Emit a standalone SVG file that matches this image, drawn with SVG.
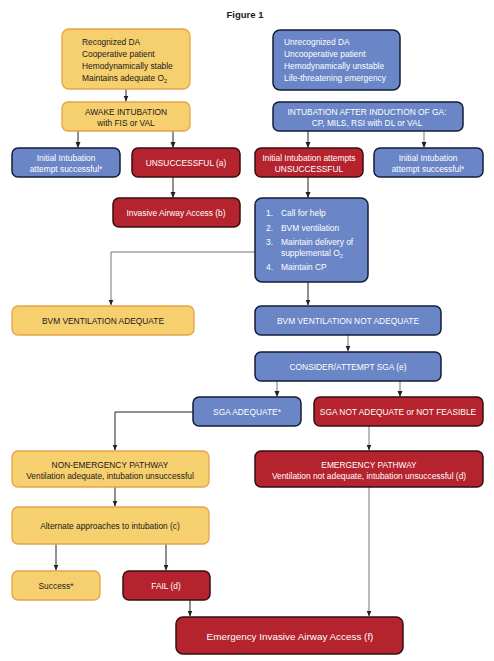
<svg xmlns="http://www.w3.org/2000/svg" width="494" height="661" viewBox="0 0 494 661">
<defs>
<style>
.y{fill:#F6CF6E;stroke:#E6A34A;stroke-width:1.3}
.b{fill:#6A86C6;stroke:#141C38;stroke-width:1.5}
.r{fill:#B4232E;stroke:#35100F;stroke-width:1.5}
text{font-family:"Liberation Sans",Arial,sans-serif;font-size:8.4px}
.dk{fill:#1a1a1a}
.wt{fill:#ffffff}
.c{text-anchor:middle}
.ln{fill:none;stroke:#222;stroke-width:1}
.lg{fill:none;stroke:#777;stroke-width:1}
</style>
<marker id="a" viewBox="0 0 6 6" refX="5.5" refY="3" markerWidth="6" markerHeight="6" markerUnits="userSpaceOnUse" orient="auto">
<path d="M0,0.5 L6,3 L0,5.5 z" fill="#222"/>
</marker>
</defs>
<rect width="494" height="661" fill="#ffffff"/>
<text x="245" y="18" class="c dk" style="font-weight:bold;font-size:9.5px">Figure 1</text>

<g id="connectors">
<path class="ln" d="M126,89 V101" marker-end="url(#a)"/>
<path class="ln" d="M78,131 V147.5" marker-end="url(#a)"/>
<path class="ln" d="M173,131 V147.5" marker-end="url(#a)"/>
<path class="ln" d="M308,131 V147.5" marker-end="url(#a)"/>
<path class="lg" d="M424,131 V147.5" marker-end="url(#a)"/>
<path class="ln" d="M173,177 V197.5" marker-end="url(#a)"/>
<path class="ln" d="M308,177 V197.5" marker-end="url(#a)"/>
<path class="lg" d="M255,252 H111 V305" marker-end="url(#a)"/>
<path class="ln" d="M308,282 V305" marker-end="url(#a)"/>
<path class="lg" d="M348,335 V351" marker-end="url(#a)"/>
<path class="lg" d="M277,381 V396.5" marker-end="url(#a)"/>
<path class="lg" d="M400,381 V396.5" marker-end="url(#a)"/>
<path class="ln" d="M193,412 H115 V450" marker-end="url(#a)"/>
<path class="lg" d="M369,426 V450" marker-end="url(#a)"/>
<path class="ln" d="M115,487 V506" marker-end="url(#a)"/>
<path class="ln" d="M56,544 V570" marker-end="url(#a)"/>
<path class="ln" d="M166,544 V570" marker-end="url(#a)"/>
<path class="ln" d="M190,600 V616" marker-end="url(#a)"/>
<path class="lg" d="M369,487 V616" marker-end="url(#a)"/>
</g>

<g id="n1"><rect class="y" x="62" y="29" width="128" height="60" rx="7"/>
<text class="dk" x="82" y="45">Recognized DA</text>
<text class="dk" x="82" y="57">Cooperative patient</text>
<text class="dk" x="82" y="69">Hemodynamically stable</text>
<text class="dk" x="82" y="81">Maintains adequate O<tspan dy="2" style="font-size:5.5px">2</tspan></text></g>

<g id="n2"><rect class="b" x="273" y="30" width="127" height="60" rx="7"/>
<text class="wt" x="284" y="45">Unrecognized DA</text>
<text class="wt" x="284" y="57">Uncooperative patient</text>
<text class="wt" x="284" y="69">Hemodynamically unstable</text>
<text class="wt" x="284" y="81">Life-threatening emergency</text></g>

<g id="n3"><rect class="y" x="62" y="102" width="128" height="29" rx="6"/>
<text class="dk c" x="126" y="115">AWAKE INTUBATION</text>
<text class="dk c" x="126" y="126">with FIS or VAL</text></g>

<g id="n4"><rect class="b" x="273" y="102" width="190" height="29" rx="6"/>
<text class="wt c" x="367" y="115">INTUBATION AFTER INDUCTION OF GA:</text>
<text class="wt c" x="367" y="126">CP, MILS, RSI with DL or VAL</text></g>

<g id="n5"><rect class="b" x="12" y="148" width="108" height="29" rx="6"/>
<text class="wt c" x="66" y="161">Initial Intubation</text>
<text class="wt c" x="66" y="172">attempt successful*</text></g>

<g id="n6"><rect class="r" x="132" y="148" width="108" height="29" rx="6"/>
<text class="wt c" x="186" y="166">UNSUCCESSFUL (a)</text></g>

<g id="n7"><rect class="r" x="255" y="148" width="108" height="29" rx="6"/>
<text class="wt c" x="309" y="161">Initial Intubation attempts</text>
<text class="wt c" x="309" y="172">UNSUCCESSFUL</text></g>

<g id="n8"><rect class="b" x="374" y="148" width="109" height="29" rx="6"/>
<text class="wt c" x="428" y="161">Initial Intubation</text>
<text class="wt c" x="428" y="172">attempt successful*</text></g>

<g id="n9"><rect class="r" x="113" y="198" width="127" height="29" rx="6"/>
<text class="wt c" x="176" y="216">Invasive Airway Access (b)</text></g>

<g id="n10"><rect class="b" x="255" y="198" width="113" height="84" rx="7"/>
<text class="wt" x="266" y="216">1.</text><text class="wt" x="281" y="216">Call for help</text>
<text class="wt" x="266" y="231">2.</text><text class="wt" x="281" y="231">BVM ventilation</text>
<text class="wt" x="266" y="245">3.</text><text class="wt" x="281" y="245">Maintain delivery of</text>
<text class="wt" x="281" y="256">supplemental O<tspan dy="2" style="font-size:5.5px">2</tspan></text>
<text class="wt" x="266" y="270">4.</text><text class="wt" x="281" y="270">Maintain CP</text></g>

<g id="n11"><rect class="y" x="12" y="306" width="182" height="29" rx="6"/>
<text class="dk c" x="103" y="324">BVM VENTILATION ADEQUATE</text></g>

<g id="n12"><rect class="b" x="255" y="306" width="186" height="29" rx="6"/>
<text class="wt c" x="348" y="324">BVM VENTILATION NOT ADEQUATE</text></g>

<g id="n13"><rect class="b" x="255" y="352" width="186" height="29" rx="6"/>
<text class="wt c" x="348" y="370">CONSIDER/ATTEMPT SGA (e)</text></g>

<g id="n14"><rect class="b" x="193" y="397" width="108" height="29" rx="6"/>
<text class="wt c" x="247" y="415">SGA ADEQUATE*</text></g>

<g id="n15"><rect class="r" x="314" y="397" width="169" height="29" rx="6"/>
<text class="wt c" x="398" y="415">SGA NOT ADEQUATE or NOT FEASIBLE</text></g>

<g id="n16"><rect class="y" x="12" y="451" width="197" height="36" rx="6"/>
<text class="dk c" x="110" y="468">NON-EMERGENCY PATHWAY</text>
<text class="dk c" x="110" y="479">Ventilation adequate, intubation unsuccessful</text></g>

<g id="n17"><rect class="r" x="255" y="451" width="228" height="36" rx="6"/>
<text class="wt c" x="369" y="468">EMERGENCY PATHWAY</text>
<text class="wt c" x="369" y="479">Ventilation not adequate, intubation unsuccessful (d)</text></g>

<g id="n18"><rect class="y" x="12" y="507" width="197" height="37" rx="6"/>
<text class="dk c" x="110" y="529">Alternate approaches to intubation (c)</text></g>

<g id="n19"><rect class="y" x="12" y="571" width="88" height="29" rx="6"/>
<text class="dk c" x="56" y="589">Success*</text></g>

<g id="n20"><rect class="r" x="123" y="571" width="87" height="29" rx="6"/>
<text class="wt c" x="166" y="589">FAIL (d)</text></g>

<g id="n21"><rect class="r" x="176" y="617" width="227" height="37" rx="7"/>
<text class="wt c" x="290" y="639.5" style="font-size:9.9px">Emergency Invasive Airway Access (f)</text></g>
</svg>
